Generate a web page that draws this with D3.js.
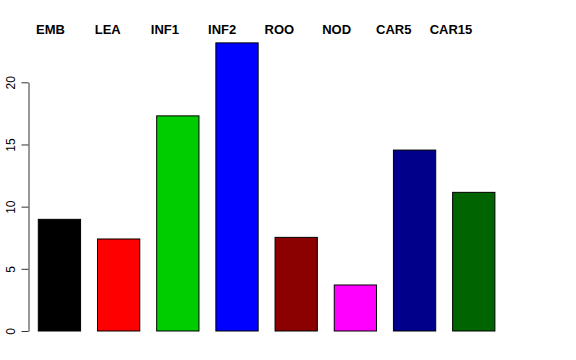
<!DOCTYPE html>
<html>
<head>
  <script src="https://d3js.org/d3.v7.min.js"></script>
  <style>
    body { margin: 0; background: #fff; }
    svg { display: block; font-family: "Liberation Sans", Arial, sans-serif; }
  </style>
</head>
<body>
  <div id="chart"></div>
  <script>
    // values
    const categories = ["EMB", "LEA", "INF1", "INF2", "ROO", "NOD", "CAR5", "CAR15"];
    const values = [8.98, 7.4, 17.3, 23.17, 7.53, 3.7, 14.55, 11.15];
    const colors = ["#000000", "#FF0000", "#00CD00", "#0000FF", "#8B0000", "#FF00FF", "#00008B", "#006400"];
    const yTicks = [0, 5, 10, 15, 20];

    const width = 576, height = 360;

    const svg = d3.select("#chart")
      .append("svg")
      .attr("width", width)
      .attr("height", height);

    // barplot with space = 0.4
    const x = d3.scaleBand()
      .domain(categories)
      .range([38.3, 494.9])
      .paddingInner(0.4 / 1.4)
      .paddingOuter(0);

    const y = d3.scaleLinear()
      .domain([0, 20])
      .range([331, 82.3]);

    // labels across the top
    const labelX = d3.scalePoint()
      .domain(categories)
      .range([50.5, 451]);

    svg.append("g")
      .selectAll("rect")
      .data(categories)
      .join("rect")
      .attr("x", d => x(d))
      .attr("y", (d, i) => y(values[i]))
      .attr("width", x.bandwidth())
      .attr("height", (d, i) => y(0) - y(values[i]))
      .attr("fill", (d, i) => colors[i])
      .attr("stroke", "#000")
      .attr("stroke-width", 1);

    const axis = svg.append("g")
      .attr("transform", "translate(28.5,0)")
      .call(d3.axisLeft(y).tickValues(yTicks).tickSize(7).tickSizeOuter(0));

    axis.select(".domain").attr("stroke", "#333");
    axis.selectAll(".tick line").attr("stroke", "#333");
    axis.selectAll(".tick text")
      .attr("x", null)
      .attr("dy", null)
      .attr("text-anchor", "middle")
      .attr("transform", "translate(-13.5,0) rotate(-90)")
      .attr("font-size", 12)
      .attr("font-family", "Liberation Sans, Arial, sans-serif")
      .attr("fill", "#000");

    svg.append("g")
      .selectAll("text")
      .data(categories)
      .join("text")
      .attr("x", d => labelX(d))
      .attr("y", 34)
      .attr("text-anchor", "middle")
      .attr("font-size", 13)
      .attr("font-weight", "bold")
      .attr("fill", "#000")
      .text(d => d);
  </script>
</body>
</html>
